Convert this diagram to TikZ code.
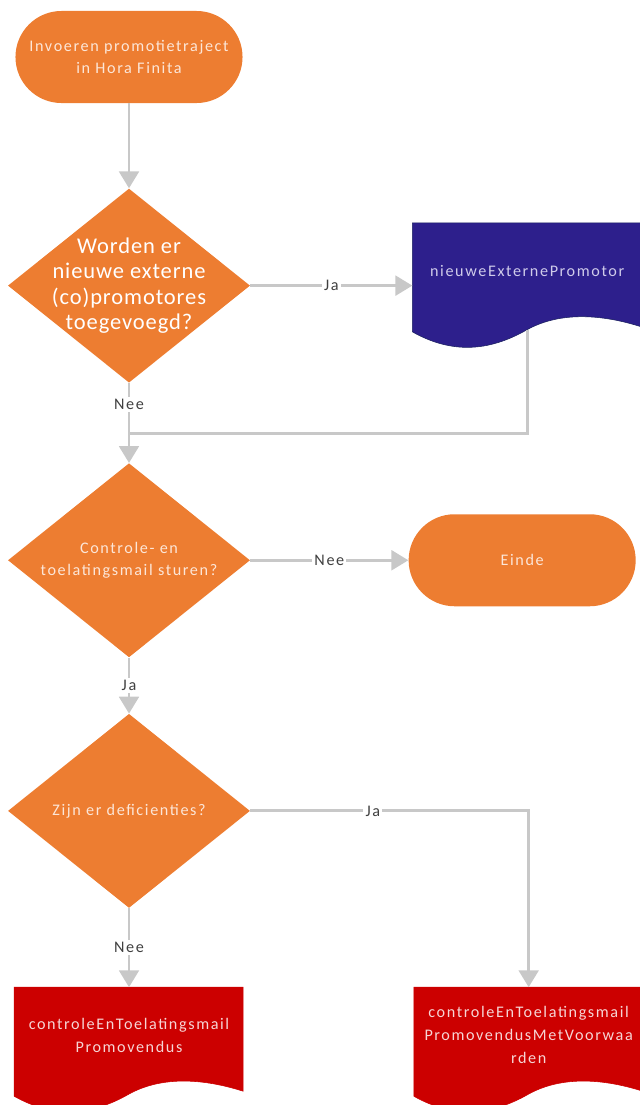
\documentclass[tikz,border=0pt]{standalone}
\usepackage{fontspec}
\setmainfont{Carlito}
\newfontfamily\lightfont[LetterSpace=10]{Carlito}
\newfontfamily\mainfont[LetterSpace=4]{Carlito}
\usetikzlibrary{arrows.meta,positioning,shapes,backgrounds}
\definecolor{flowColor}{HTML}{ED7D31}
\definecolor{externColor}{HTML}{2D1F8C}
\definecolor{externLineColor}{HTML}{1C2260}
\definecolor{mailColor}{HTML}{CC0000}
\definecolor{lineColor}{HTML}{C8C8C8}
\definecolor{labelColor}{HTML}{404040}
\definecolor{lightTextColor}{HTML}{FCE6D8}
\definecolor{externTextColor}{HTML}{CFCBEA}
\definecolor{mailTextColor}{HTML}{F6D5D5}

\begin{document}
\begin{tikzpicture}[%
    x=0.025cm,y=-0.025cm,
    >={Triangle[width=14pt,length=12pt]},align=center,
    every node/.style={font=\lightfont\fontsize{11.5}{16.3}\selectfont}]
    \tikzstyle{base}=[text centered]
    \tikzstyle{terminal}=[base,rectangle,rounded corners=1.15cm,minimum width=5.675cm,minimum height=2.3cm,fill=flowColor,text=lightTextColor]
    \tikzstyle{decision}=[base,diamond,aspect=1,inner sep=-16pt,minimum width=6.05cm,minimum height=4.85cm,fill=flowColor,text=lightTextColor]
    \tikzstyle{document}=[base,rectangle,minimum width=5.725cm,minimum height=2.375cm]
    \tikzstyle{flow}=[->,draw=lineColor,line width=2.1pt]
    \tikzstyle{line}=[draw=lineColor,line width=2.1pt]
    \tikzstyle{lbl}=[fill=white,text=labelColor,inner sep=1.5pt]
    % All state styles
    \tikzstyle{start}=[terminal]
    \tikzstyle{einde}=[terminal]
    \tikzstyle{askExtern}=[decision,text=white,font=\mainfont\fontsize{16}{17.8}\selectfont]
    \tikzstyle{askMail}=[decision]
    \tikzstyle{askDefic}=[decision]
    \tikzstyle{docExtern}=[document,text=externTextColor]
    \tikzstyle{docMail}=[document,text=mailTextColor]
    \useasboundingbox (0,0) rectangle (639,1105);
    % All states
    \node (start) [start] at (129,57)
          {Invoeren promotietraject\\in Hora Finita};
    \node (askExtern) [askExtern,below=2.125cm of start]
          {Worden er\\nieuwe externe\\(co)promotores\\toegevoegd?};
    \node (docExtern) [docExtern,right=4.05cm of askExtern,yshift=0.375cm]
          {nieuweExternePromotor};
    \node (askMail) [askMail,below=2.0cm of askExtern]
          {Controle- en\\toelatingsmail sturen?};
    \node (einde) [einde,right=3.95cm of askMail]            {Einde};
    \node (askDefic) [askDefic,below=1.4cm of askMail]
          {Zijn er deficienties?};
    \node (docMail) [docMail,below=1.975cm of askDefic]
          {controleEnToelatingsmail\\Promovendus};
    \node (docVoorw) [docMail,right=4.25cm of docMail]
          {controleEnToelatingsmail\\PromovendusMetVoorwaa\\rden};
    % Document outlines
    \begin{scope}[on background layer]
      \foreach \doc/\col/\edge in {docExtern/externColor/externLineColor,docMail/mailColor/mailColor,docVoorw/mailColor/mailColor}
        \filldraw [fill=\col,draw=\edge,shift={(\doc.north west)}]
          (0,0) -- (229,0) -- (229,104) .. controls (185,90) and (145,90) .. (114.5,107)
          .. controls (76,129) and (39,131) .. (0,109) -- cycle;
    \end{scope}
    % Edges
    \coordinate (externOut) at ([yshift=-0.3cm]docExtern.south);
    \coordinate (join) at ([yshift=-1.275cm]askExtern.south);
    \draw [flow] (start) -- (askExtern);
    \draw [flow] (askExtern.east) -- node[lbl] {Ja} (askExtern.east -| docExtern.west);
    \draw [flow] (askExtern) -- node[lbl,pos=0.27] {Nee} (askMail);
    \draw [line] (externOut) |- (join);
    \draw [flow] (askMail) -- node[lbl] {Nee} (einde);
    \draw [flow] (askMail) -- node[lbl] {Ja} (askDefic);
    \draw [flow] (askDefic) -| node[lbl,pos=0.22] {Ja} (docVoorw);
    \draw [flow] (askDefic) -- node[lbl] {Nee} (docMail);
  \end{tikzpicture}
\end{document}
